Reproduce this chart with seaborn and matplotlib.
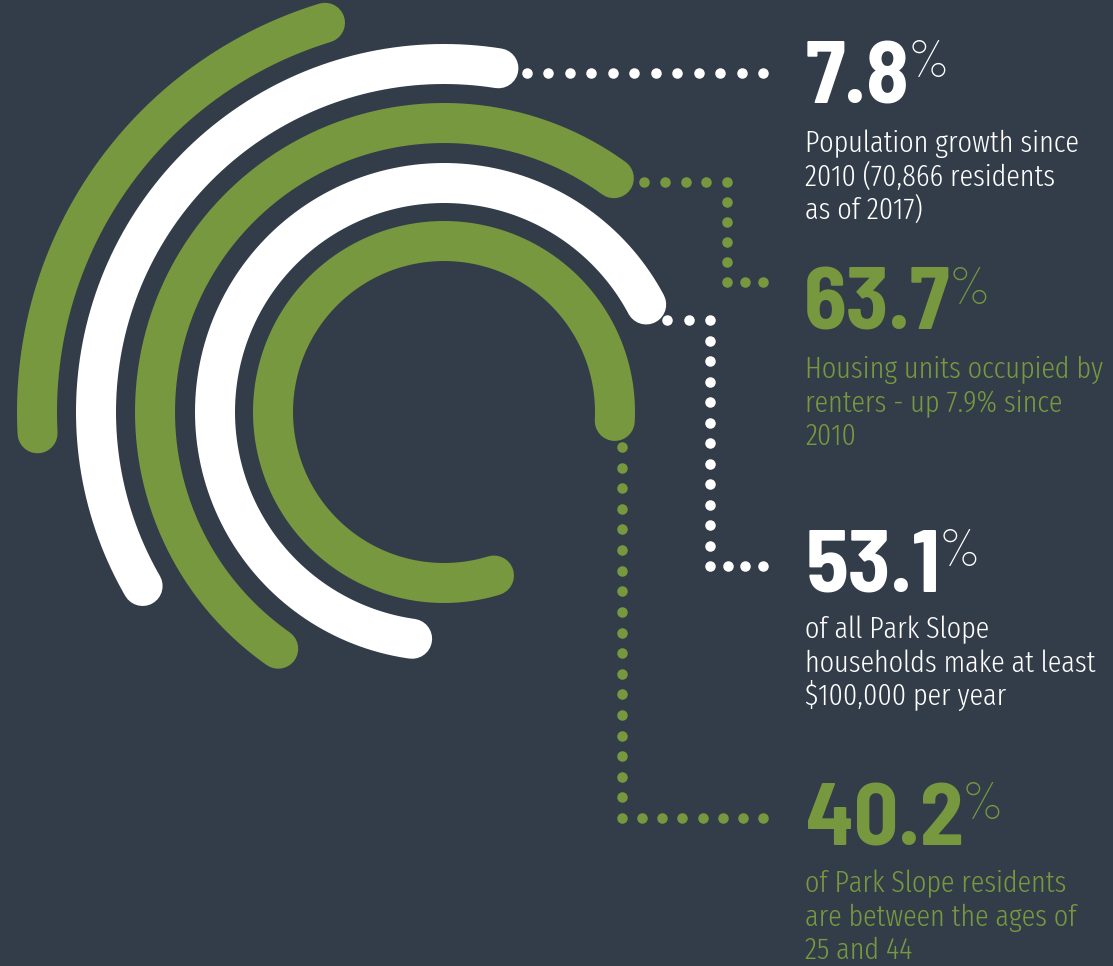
import numpy as np
import pandas as pd
import matplotlib
matplotlib.use("Agg")
import matplotlib.pyplot as plt
import seaborn as sns

# ---------------- data ----------------
values = ["7.8", "63.7", "53.1", "40.2"]
descriptions = [
    ["Population growth since", "2010 (70,866 residents", "as of 2017)"],
    ["Housing units occupied by", "renters - up 7.9% since", "2010"],
    ["of all Park Slope", "households make at least", "$100,000 per year"],
    ["of Park Slope residents", "are between the ages of", "25 and 44"],
]
value_color_keys = ["white", "green", "white", "green"]

arc_radius = [407, 348, 289, 229, 171]
arc_start_deg = [107, 81, 54, 28, -3]
arc_end_deg = [183, 210, 235, 262, 287]
arc_color_keys = ["green", "white", "green", "white", "green"]

# ---------------- style / layout ----------------
BG = "#333d49"
COLORS = {"green": "#78983f", "white": "#ffffff"}
W, H = 1113, 966
CX, CY = 444, 412
ARC_LW_PX = 40
PX2PT = 72 / 100

leaders = [
    [(527, 73), (763, 73)],
    [(644, 182), (727, 182), (727, 282), (763, 282)],
    [(667, 320), (710, 320), (710, 566), (763, 566)],
    [(622, 447), (622, 818), (763, 818)],
]
number_pos = [(806, 103), (804, 330), (806, 592), (806, 845)]
text_x = 805
text_first_baseline = [152, 378, 638, 892]
LINE_STEP = 33.5

NUM_FONT = "Barlow Semi Condensed"
BODY_FONT = "Fira Sans Extra Condensed"

sns.set_theme(style="white")
plt.rcParams["font.family"] = ["Roboto", "DejaVu Sans"]

fig = plt.figure(figsize=(W / 100, H / 100), dpi=100, facecolor=BG)
ax = fig.add_axes([0, 0, 1, 1])
ax.set_facecolor(BG)

# arcs
for r, a0, a1, ck in zip(arc_radius, arc_start_deg, arc_end_deg, arc_color_keys):
    t = np.deg2rad(np.linspace(a0, a1, 300))
    df = pd.DataFrame({"x": CX + r * np.cos(t), "y": CY - r * np.sin(t)})
    sns.lineplot(data=df, x="x", y="y", sort=False, estimator=None, ax=ax,
                 color=COLORS[ck], linewidth=ARC_LW_PX * PX2PT,
                 solid_capstyle="round")

# dotted leaders
for path, ck in zip(leaders, value_color_keys):
    pts = []
    for (x0, y0), (x1, y1) in zip(path[:-1], path[1:]):
        L = np.hypot(x1 - x0, y1 - y0)
        n = max(1, int(round(L / 21)))
        for si in np.linspace(0, 1, n + 1):
            pts.append((x0 + (x1 - x0) * si, y0 + (y1 - y0) * si))
    pts = pd.DataFrame(pts, columns=["x", "y"]).drop_duplicates()
    sns.scatterplot(data=pts, x="x", y="y", ax=ax, color=COLORS[ck],
                    s=(10.5 * PX2PT) ** 2, linewidth=0, zorder=3)

ax.set_xlim(0, W)
ax.set_ylim(H, 0)
ax.axis("off")

renderer = fig.canvas.get_renderer()

# text
for v, lines, ck, (nx, ny), tb in zip(values, descriptions, value_color_keys,
                                      number_pos, text_first_baseline):
    col = COLORS[ck]
    t = ax.text(nx, ny, v, color=col, fontsize=63, fontweight="bold",
                fontfamily=NUM_FONT, va="baseline", ha="left")
    bb = t.get_window_extent(renderer=renderer)
    right_px = bb.x1
    ax.text(right_px - 3, ny - 26, "%", color=col, fontsize=38,
            fontweight=200, fontfamily=NUM_FONT, va="baseline", ha="left")
    for i, line in enumerate(lines):
        ax.text(text_x, tb + i * LINE_STEP, line, color=col, fontsize=22,
                fontweight=300, fontfamily=BODY_FONT, va="baseline", ha="left")

fig.savefig("out.png", dpi=100, facecolor=BG)
